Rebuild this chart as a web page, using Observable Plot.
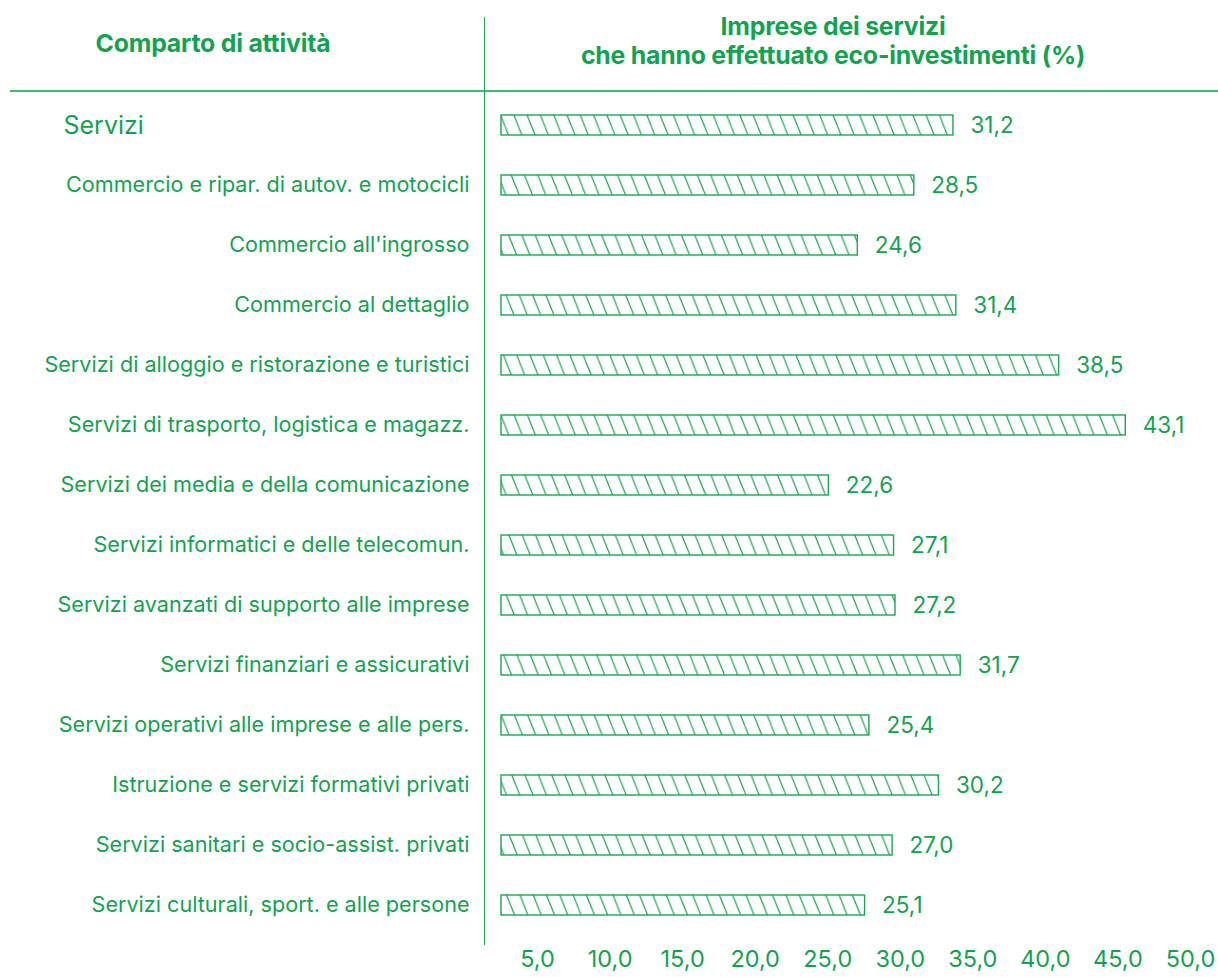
<!DOCTYPE html>
<html><head><meta charset="utf-8">
<script src="https://cdn.jsdelivr.net/npm/d3@7"></script>
<script src="https://cdn.jsdelivr.net/npm/@observablehq/plot@0.6"></script>
<style>
body{margin:0;background:#fff;font-family:Inter,"Noto Sans",sans-serif;}
#wrap{position:relative;width:1218px;height:977px;}
.h{position:absolute;color:#12a34f;font-weight:700;font-size:24.8px;text-align:center;line-height:29px;letter-spacing:-0.2px;}
.ln{position:absolute;background:#1fad5a;}
#main{position:absolute;left:0;top:94px;}
#axis{position:absolute;left:0;top:943px;}
</style></head>
<body>
<div id="wrap">
  <div class="h" style="left:0;width:426px;top:29px;">Comparto di attività</div>
  <div class="h" style="left:548px;width:570px;top:12px;">Imprese dei servizi<br>che hanno effettuato eco-investimenti (%)</div>
  <div class="ln" style="left:10px;top:90px;width:1208px;height:2px;opacity:.85"></div>
  <div class="ln" style="left:484px;top:17px;width:1.3px;height:928px;"></div>
  <div id="main"></div>
  <div id="axis"></div>
</div>
<script>
const categories = [
  "Servizi",
  "Commercio e ripar. di autov. e motocicli",
  "Commercio all'ingrosso",
  "Commercio al dettaglio",
  "Servizi di alloggio e ristorazione e turistici",
  "Servizi di trasporto, logistica e magazz.",
  "Servizi dei media e della comunicazione",
  "Servizi informatici e delle telecomun.",
  "Servizi avanzati di supporto alle imprese",
  "Servizi finanziari e assicurativi",
  "Servizi operativi alle imprese e alle pers.",
  "Istruzione e servizi formativi privati",
  "Servizi sanitari e socio-assist. privati",
  "Servizi culturali, sport. e alle persone"
];
const values = [31.2, 28.5, 24.6, 31.4, 38.5, 43.1, 22.6, 27.1, 27.2, 31.7, 25.4, 30.2, 27.0, 25.1];
const tickValues = [5, 10, 15, 20, 25, 30, 35, 40, 45, 50];

const green = "#12a34f";
const fmt = v => d3.format(".1f")(v).replace(".", ",");
const rows = categories.map((c, i) => ({cat: c, value: values[i]}));

const main = Plot.plot({
  width: 1218, height: 842,
  marginTop: 0, marginBottom: 0, marginLeft: 501, marginRight: 0,
  style: {fontFamily: "Inter, 'Noto Sans', sans-serif", color: green, background: "transparent", overflow: "visible"},
  x: {domain: [0, 49.5], axis: null},
  y: {domain: categories, padding: 0, axis: null},
  marks: [
    Plot.barX(rows, {x: "value", y: "cat", fill: "url(#hatch)", stroke: "#1aa854", strokeWidth: 1.4, insetTop: 20, insetBottom: 20}),
    Plot.text(rows, {x: "value", y: "cat", text: d => fmt(d.value), dx: 17, textAnchor: "start", fontSize: 22.5, fill: green}),
    Plot.text(rows.slice(1), {y: "cat", text: "cat", frameAnchor: "left", dx: -32, textAnchor: "end", fontSize: 21.6, fill: green}),
    Plot.text(rows.slice(0, 1), {y: "cat", text: "cat", frameAnchor: "left", dx: -438, textAnchor: "start", fontSize: 25, fill: green})
  ]
});
d3.select(main).insert("defs", ":first-child").html(
  `<pattern id="hatch" patternUnits="userSpaceOnUse" width="13.3" height="33.25">
     <path d="M0,0L13.3,33.25M-13.3,0L0,33.25M13.3,0L26.6,33.25" stroke="#1aa854" stroke-width="1.2" fill="none"/>
   </pattern>`);
document.getElementById("main").appendChild(main);

const axis = Plot.plot({
  width: 1218, height: 32,
  marginTop: 0, marginBottom: 0, marginLeft: 537, marginRight: 28,
  style: {fontFamily: "Inter, 'Noto Sans', sans-serif", color: green, background: "transparent", overflow: "visible"},
  x: {domain: [5, 50], axis: null},
  marks: [
    Plot.text(tickValues, {x: d => d, text: d => fmt(d), frameAnchor: "middle", fontSize: 23.5, fill: green})
  ]
});
document.getElementById("axis").appendChild(axis);
</script>
</body></html>
